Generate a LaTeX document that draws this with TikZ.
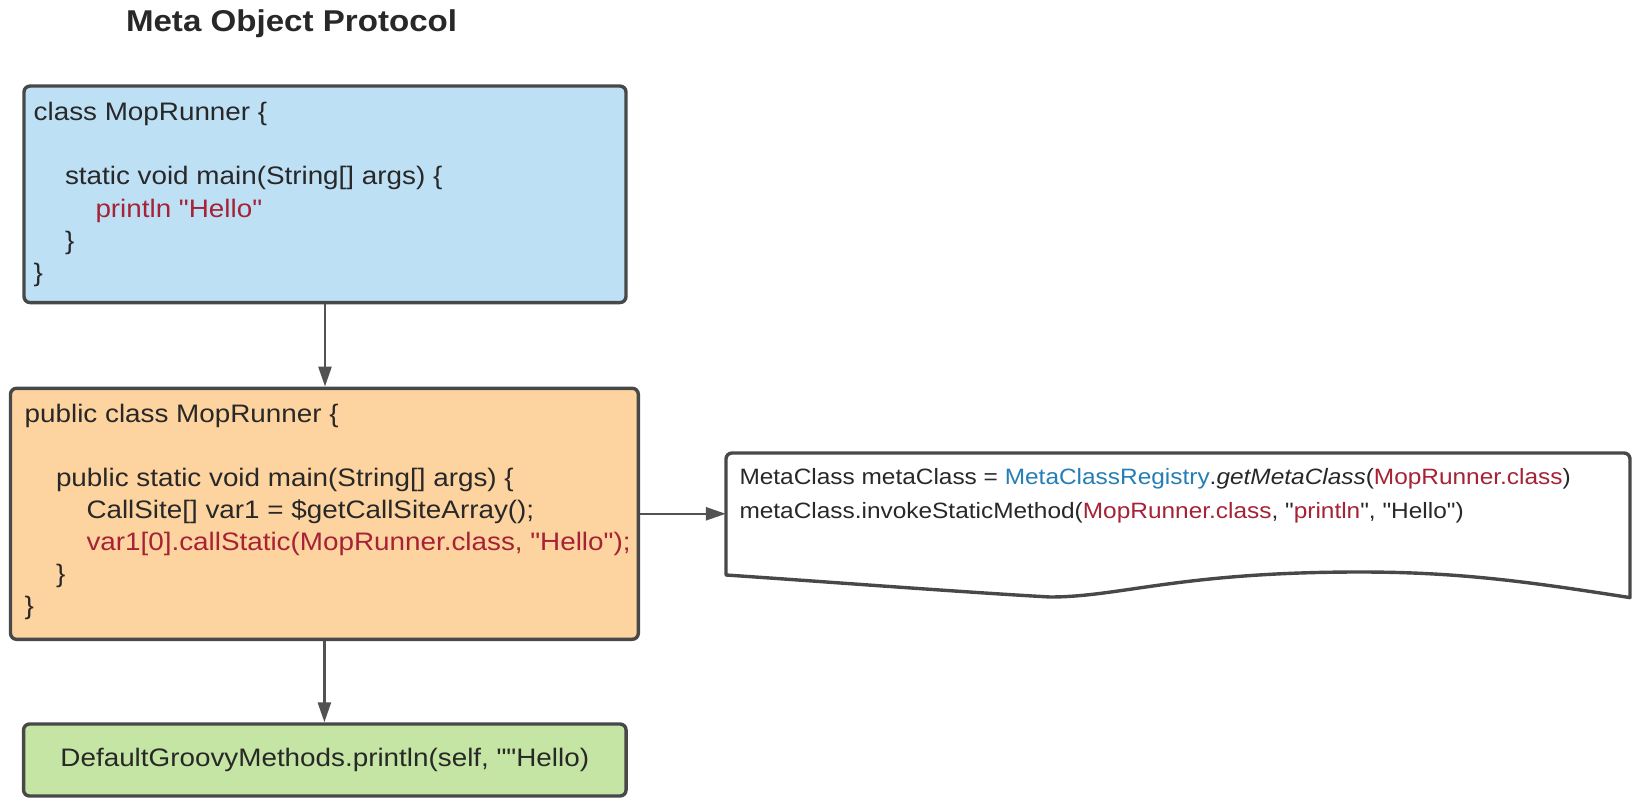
\documentclass[tikz,border=0pt]{standalone}
\usepackage{fontspec}
\setmainfont{Liberation Sans}[FakeStretch=1.1, Ligatures=TeXOff]
\usetikzlibrary{arrows.meta}

\definecolor{ink}{RGB}{40,40,40}
\definecolor{edge}{RGB}{72,72,72}
\definecolor{wire}{RGB}{82,82,82}
\definecolor{srcfill}{RGB}{189,224,245}
\definecolor{genfill}{RGB}{253,212,160}
\definecolor{dgmfill}{RGB}{197,229,165}
\definecolor{kw}{RGB}{166,34,54}
\definecolor{ref}{RGB}{38,126,182}

\newcommand{\codefont}{\fontsize{25.3}{32}\selectfont}
\newcommand{\notefont}{\fontsize{22.2}{34}\selectfont}

\tikzset{
  box/.style={draw=edge, line width=3.4pt, rounded corners=6pt, inner sep=0pt},
  codeline/.style={anchor=base west, inner sep=0pt, font=\codefont, text=ink},
  noteline/.style={anchor=base west, inner sep=0pt, font=\notefont, text=ink},
  conn/.style={draw=wire, line width=2.6pt, -{Triangle[length=20pt,width=13pt]}},
}

\begin{document}
\begin{tikzpicture}[x=1pt,y=-1pt]
\useasboundingbox (0,0) rectangle (1644,805);

% heading
\node[anchor=base west, inner sep=0pt, text=ink,
      font=\fontsize{30.1}{36}\selectfont\bfseries] (title) at (125.8,31.7) {Meta Object Protocol};

% Groovy source
\node[box, fill=srcfill, minimum width=602pt, minimum height=216.5pt] (src) at (325,194.3) {};
\node[codeline] (s1) at (33.5,120.7) {class MopRunner \{};
\node[codeline] (s2) at (64.8,185.0) {static void main(String[] args) \{};
\node[codeline, text=kw] (s3) at (95.3,217.1) {println "Hello"};
\node[codeline] (s4) at (64.8,249.2) {\}};
\node[codeline] (s5) at (33.5,281.3) {\}};

% generated Java
\node[box, fill=genfill, minimum width=627.8pt, minimum height=251pt] (gen) at (324.4,513.8) {};
\node[codeline] (g1) at (24.5,422.3) {public class MopRunner \{};
\node[codeline] (g2) at (55.8,486.3) {public static void main(String[] args) \{};
\node[codeline] (g3) at (86.3,518.3) {CallSite[] var1 = \$getCallSiteArray();};
\node[codeline, text=kw] (g4) at (86.3,550.3) {var1[0].callStatic(MopRunner.class, "Hello");};
\node[codeline] (g5) at (55.8,582.3) {\}};
\node[codeline] (g6) at (24.5,614.3) {\}};

% DGM call
\node[box, fill=dgmfill, minimum width=602.5pt, minimum height=72pt,
      font=\codefont, text=ink] (dgm) at (324.8,760)
      {DefaultGroovyMethods.println(self, ""Hello)};

% note with wavy bottom edge
\node[minimum width=904pt, minimum height=144.6pt, inner sep=0pt] (doc) at (1178,525.3) {};
\draw[draw=edge, line width=3.4pt, fill=white, line join=round]
  (726,575) -- (726,459) arc[start angle=180, end angle=90, radius=6pt]
  -- (1624,453) arc[start angle=90, end angle=0, radius=6pt]
  -- (1630,597.6)
  .. controls (1530,582) and (1460,572) .. (1360,572)
  .. controls (1180,572) and (1120,597) .. (1050,597)
  .. controls (960,592) and (830,582) .. (726,575) -- cycle;
\node[noteline] (n1) at (739.3,484.3)
  {MetaClass metaClass = \textcolor{ref}{MetaClassRegistry}.\textit{getMetaClass}(\textcolor{kw}{MopRunner.class})};
\node[noteline] (n2) at (739.3,518.3)
  {metaClass.invokeStaticMethod(\textcolor{kw}{MopRunner.class}, "\textcolor{kw}{println}", "Hello")};

% connectors
\draw[conn] (src.south) -- (src.south |- gen.north);
\draw[conn] (gen.south) -- (gen.south |- dgm.north);
\draw[conn] (gen.east) -- (gen.east -| doc.west);
\end{tikzpicture}
\end{document}
